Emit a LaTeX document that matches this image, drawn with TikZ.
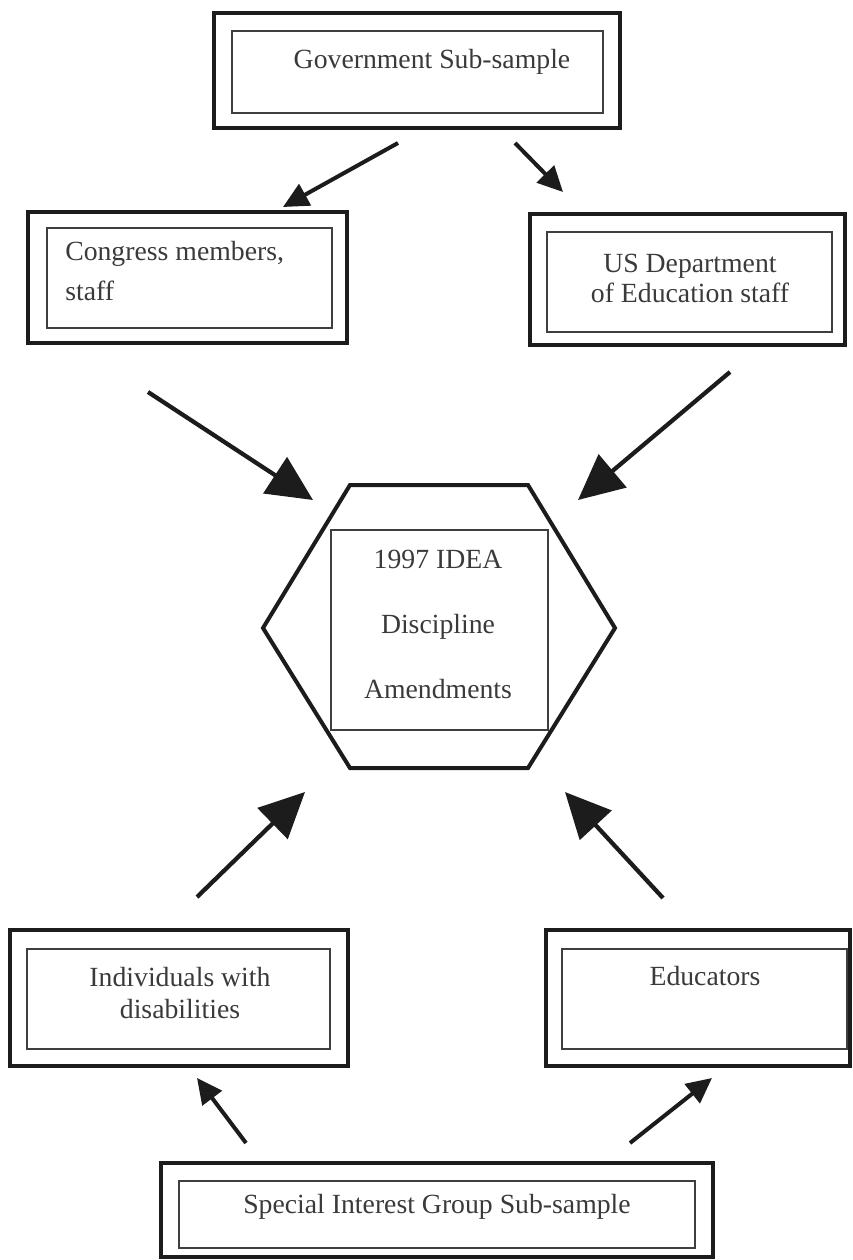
\documentclass[tikz,border=0pt]{standalone}
\usepackage{fontspec}
\setmainfont{Liberation Serif}
\usetikzlibrary{arrows.meta}
\definecolor{ink}{HTML}{1c1c1c}
\definecolor{txtgray}{HTML}{3a3a3a}
\tikzstyle{outerbox}=[draw=ink, line width=3.6pt, inner sep=0pt]
\tikzstyle{innerbox}=[draw=ink!85, line width=0.9pt, inner sep=0pt]
\tikzstyle{lbl}=[inner sep=0pt, text=txtgray, font=\fontsize{20.8}{24}\selectfont]
\tikzstyle{flow}=[draw=ink, line width=3pt, -{Triangle[length=19pt, width=18pt]}]
\tikzstyle{bigflow}=[draw=ink, line width=3.2pt, -{Triangle[length=34pt, width=32pt]}]

\begin{document}
\begin{tikzpicture}[x=0.75pt, y=-0.75pt]

\useasboundingbox (0, 0) rectangle (853, 1260);

% government sub-sample
\node [outerbox, minimum width=304.5pt, minimum height=86.25pt] (gov) at (417, 70.5) {};
\node [innerbox, minimum width=278.25pt, minimum height=61.5pt] (govin) at (417.5, 72) {};
\node [lbl] (govtxt) at (432, 62) {Government Sub-sample};

% congress
\node [outerbox, minimum width=239.25pt, minimum height=98.25pt] (cong) at (187.5, 277.5) {};
\node [innerbox, minimum width=213.75pt, minimum height=75pt] (congin) at (189.5, 278) {};
\node [lbl, anchor=west, align=left, font=\fontsize{20.8}{30}\selectfont] (congtxt) at (65, 271) {Congress members,\\staff};

% department of education
\node [outerbox, minimum width=236.25pt, minimum height=98.25pt] (usde) at (687.5, 279.5) {};
\node [innerbox, minimum width=213.75pt, minimum height=75pt] (usdein) at (689.5, 282) {};
\node [lbl, align=center, font=\fontsize{20.8}{22.5}\selectfont] (usdetxt) at (690, 278) {US Department\\of Education staff};

% 1997 IDEA
\draw [ink, line width=3pt, line join=miter] (350, 485) -- (528, 485) -- (615, 628) -- (528, 768) -- (350, 768) -- (263, 628) -- cycle;
\node [innerbox, minimum width=162.75pt, minimum height=150pt] (idea) at (439.5, 630) {};
\node [lbl, align=center, font=\fontsize{20.8}{48.75}\selectfont] (ideatxt) at (438, 624) {1997 IDEA\\Discipline\\Amendments};

% individuals with disabilities
\node [outerbox, minimum width=253.5pt, minimum height=102pt] (indiv) at (179, 998) {};
\node [innerbox, minimum width=227.25pt, minimum height=75pt] (indivin) at (178.5, 999) {};
\node [lbl, align=center] (indivtxt) at (180, 993) {Individuals with\\disabilities};

% educators
\node [outerbox, minimum width=228pt, minimum height=102pt] (educ) at (698, 998) {};
\node [innerbox, minimum width=213.75pt, minimum height=75pt] (educin) at (704.5, 999) {};
\node [lbl] (eductxt) at (705, 976) {Educators};

% special interest group sub-sample
\node [outerbox, minimum width=414pt, minimum height=70.5pt] (sig) at (437, 1210) {};
\node [innerbox, minimum width=387pt, minimum height=50.25pt] (sigin) at (437, 1214.5) {};
\node [lbl] (sigtxt) at (437, 1207) {Special Interest Group Sub-sample};

% arrow ends
\coordinate (a1) at (398, 143);
\coordinate (b1) at (283, 207);
\coordinate (a2) at (515, 143);
\coordinate (b2) at (563, 192);
\coordinate (a3) at (148, 392);
\coordinate (b3) at (313, 500);
\coordinate (a4) at (730, 372);
\coordinate (b4) at (578, 500);
\coordinate (a5) at (197, 897);
\coordinate (b5) at (305, 792);
\coordinate (a6) at (663, 898);
\coordinate (b6) at (565, 792);
\coordinate (a7) at (246, 1143);
\coordinate (b7) at (197, 1078);
\coordinate (a8) at (630, 1143);
\coordinate (b8) at (712, 1078);

\draw [flow] (a1) -- (b1);
\draw [flow] (a2) -- (b2);
\draw [bigflow] (a3) -- (b3);
\draw [bigflow] (a4) -- (b4);
\draw [bigflow] (a5) -- (b5);
\draw [bigflow] (a6) -- (b6);
\draw [flow] (a7) -- (b7);
\draw [flow] (a8) -- (b8);

\end{tikzpicture}
\end{document}
